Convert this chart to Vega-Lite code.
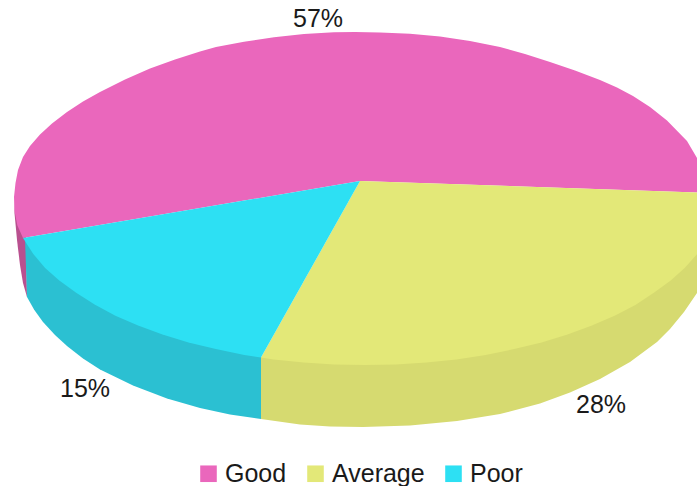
{"$schema":"https://vega.github.io/schema/vega-lite/v6.json","width":697,"height":486,"padding":0,"autosize":{"type":"fit","contains":"padding"},"background":"white","config":{"view":{"stroke":null}},
"datasets":{
"tops":[
{"slice":"Good","seq":0,"x":360,"y":181},{"slice":"Good","seq":1,"x":712,"y":193},{"slice":"Good","seq":2,"x":706,"y":178},{"slice":"Good","seq":3,"x":697,"y":158},{"slice":"Good","seq":4,"x":687,"y":141},{"slice":"Good","seq":5,"x":667,"y":120.5},{"slice":"Good","seq":6,"x":650,"y":107},{"slice":"Good","seq":7,"x":633,"y":96},{"slice":"Good","seq":8,"x":617,"y":87.5},{"slice":"Good","seq":9,"x":600,"y":80},{"slice":"Good","seq":10,"x":575,"y":70.5},{"slice":"Good","seq":11,"x":550,"y":62},{"slice":"Good","seq":12,"x":525,"y":54},{"slice":"Good","seq":13,"x":500,"y":47},{"slice":"Good","seq":14,"x":470,"y":41},{"slice":"Good","seq":15,"x":440,"y":36.5},{"slice":"Good","seq":16,"x":410,"y":33.8},{"slice":"Good","seq":17,"x":380,"y":32.4},{"slice":"Good","seq":18,"x":355,"y":32},{"slice":"Good","seq":19,"x":334,"y":32.3},{"slice":"Good","seq":20,"x":304,"y":34},{"slice":"Good","seq":21,"x":274,"y":37.2},{"slice":"Good","seq":22,"x":244,"y":41.8},{"slice":"Good","seq":23,"x":216,"y":47},{"slice":"Good","seq":24,"x":200,"y":51.5},{"slice":"Good","seq":25,"x":175,"y":59.5},{"slice":"Good","seq":26,"x":150,"y":68.5},{"slice":"Good","seq":27,"x":125,"y":79.5},{"slice":"Good","seq":28,"x":100,"y":92},{"slice":"Good","seq":29,"x":83,"y":101.5},{"slice":"Good","seq":30,"x":67,"y":112},{"slice":"Good","seq":31,"x":52,"y":123.5},{"slice":"Good","seq":32,"x":40,"y":134.5},{"slice":"Good","seq":33,"x":30,"y":146},{"slice":"Good","seq":34,"x":23,"y":157},{"slice":"Good","seq":35,"x":18,"y":170},{"slice":"Good","seq":36,"x":15.5,"y":183},{"slice":"Good","seq":37,"x":14,"y":197},{"slice":"Good","seq":38,"x":14.5,"y":211},{"slice":"Good","seq":39,"x":17.4,"y":225.6},{"slice":"Good","seq":40,"x":23,"y":238},
{"slice":"Average","seq":0,"x":360,"y":181},{"slice":"Average","seq":1,"x":261,"y":357.5},{"slice":"Average","seq":2,"x":273.6,"y":359.4},{"slice":"Average","seq":3,"x":303.7,"y":362.5},{"slice":"Average","seq":4,"x":334.2,"y":364.4},{"slice":"Average","seq":5,"x":365,"y":365},{"slice":"Average","seq":6,"x":395.8,"y":364.4},{"slice":"Average","seq":7,"x":426.3,"y":362.5},{"slice":"Average","seq":8,"x":456.4,"y":359.4},{"slice":"Average","seq":9,"x":485.7,"y":355},{"slice":"Average","seq":10,"x":514.2,"y":349},{"slice":"Average","seq":11,"x":541.5,"y":342.4},{"slice":"Average","seq":12,"x":567.5,"y":334.5},{"slice":"Average","seq":13,"x":591.9,"y":325.4},{"slice":"Average","seq":14,"x":614.6,"y":315.7},{"slice":"Average","seq":15,"x":635.4,"y":305},{"slice":"Average","seq":16,"x":654.2,"y":292.6},{"slice":"Average","seq":17,"x":670.7,"y":280.5},{"slice":"Average","seq":18,"x":684.9,"y":267.7},{"slice":"Average","seq":19,"x":696.7,"y":254.4},{"slice":"Average","seq":20,"x":706,"y":240.7},{"slice":"Average","seq":21,"x":711,"y":226},{"slice":"Average","seq":22,"x":713,"y":212},{"slice":"Average","seq":23,"x":712,"y":193},
{"slice":"Poor","seq":0,"x":360,"y":181},{"slice":"Poor","seq":1,"x":23,"y":238},{"slice":"Poor","seq":2,"x":33.3,"y":254},{"slice":"Poor","seq":3,"x":45.1,"y":268},{"slice":"Poor","seq":4,"x":59.3,"y":280.5},{"slice":"Poor","seq":5,"x":75.8,"y":292.6},{"slice":"Poor","seq":6,"x":94.6,"y":304.5},{"slice":"Poor","seq":7,"x":115.4,"y":315.7},{"slice":"Poor","seq":8,"x":138.1,"y":325.4},{"slice":"Poor","seq":9,"x":162.5,"y":334.5},{"slice":"Poor","seq":10,"x":188.5,"y":342.4},{"slice":"Poor","seq":11,"x":215.8,"y":349},{"slice":"Poor","seq":12,"x":244.3,"y":355},{"slice":"Poor","seq":13,"x":261,"y":357.5}],
"sides":[
{"slice":"Good","seq":0,"x":15,"y":197},{"slice":"Good","seq":1,"x":26,"y":238},{"slice":"Good","seq":2,"x":27,"y":297},{"slice":"Good","seq":3,"x":23,"y":283},{"slice":"Good","seq":4,"x":20,"y":265},{"slice":"Good","seq":5,"x":17,"y":240},{"slice":"Good","seq":6,"x":14.5,"y":213},
{"slice":"Poor","seq":0,"x":25,"y":238},{"slice":"Poor","seq":1,"x":261,"y":357},{"slice":"Poor","seq":2,"x":261,"y":419},{"slice":"Poor","seq":3,"x":230,"y":414.5},{"slice":"Poor","seq":4,"x":200,"y":408},{"slice":"Poor","seq":5,"x":167,"y":398.5},{"slice":"Poor","seq":6,"x":133,"y":385.5},{"slice":"Poor","seq":7,"x":100,"y":369.5},{"slice":"Poor","seq":8,"x":83,"y":358.5},{"slice":"Poor","seq":9,"x":67,"y":346},{"slice":"Poor","seq":10,"x":55,"y":335},{"slice":"Poor","seq":11,"x":43,"y":322},{"slice":"Poor","seq":12,"x":34,"y":309.5},{"slice":"Poor","seq":13,"x":27,"y":297},
{"slice":"Average","seq":0,"x":261,"y":357},{"slice":"Average","seq":1,"x":365,"y":360},{"slice":"Average","seq":2,"x":500,"y":345},{"slice":"Average","seq":3,"x":620,"y":305},{"slice":"Average","seq":4,"x":700,"y":245},{"slice":"Average","seq":5,"x":711,"y":197},{"slice":"Average","seq":6,"x":711,"y":270},{"slice":"Average","seq":7,"x":697,"y":293},{"slice":"Average","seq":8,"x":684,"y":312},{"slice":"Average","seq":9,"x":670,"y":329},{"slice":"Average","seq":10,"x":657,"y":342},{"slice":"Average","seq":11,"x":630,"y":362},{"slice":"Average","seq":12,"x":600,"y":379},{"slice":"Average","seq":13,"x":570,"y":392.5},{"slice":"Average","seq":14,"x":540,"y":403.5},{"slice":"Average","seq":15,"x":500,"y":414},{"slice":"Average","seq":16,"x":457,"y":421},{"slice":"Average","seq":17,"x":410,"y":425.5},{"slice":"Average","seq":18,"x":363,"y":427},{"slice":"Average","seq":19,"x":330,"y":426.5},{"slice":"Average","seq":20,"x":300,"y":424.5},{"slice":"Average","seq":21,"x":261,"y":419}],
"labels":[{"label":"57%","x":318,"y":19},{"label":"28%","x":601,"y":405},{"label":"15%","x":85,"y":389}]
},
"layer":[
{"data":{"name":"sides"},"mark":{"type":"line","stroke":"transparent","strokeWidth":0,"clip":true},
"encoding":{"x":{"field":"x","type":"quantitative","scale":{"domain":[0,697],"nice":false,"zero":false},"axis":null},"y":{"field":"y","type":"quantitative","scale":{"domain":[486,0],"nice":false,"zero":false},"axis":null},"order":{"field":"seq","type":"quantitative"},
"fill":{"field":"slice","type":"nominal","scale":{"domain":["Good","Average","Poor"],"range":["#B9508F","#D6DA70","#2BC0D2"]},"legend":null}}},
{"data":{"name":"tops"},"mark":{"type":"line","stroke":"transparent","strokeWidth":0,"clip":true},
"encoding":{"x":{"field":"x","type":"quantitative","scale":{"domain":[0,697],"nice":false,"zero":false},"axis":null},"y":{"field":"y","type":"quantitative","scale":{"domain":[486,0],"nice":false,"zero":false},"axis":null},"order":{"field":"seq","type":"quantitative"},
"fill":{"field":"slice","type":"nominal","sort":null,"scale":{"domain":["Good","Average","Poor"],"range":["#EA67BC","#E3E878","#2DE0F3"]},
"legend":{"title":null,"orient":"none","legendX":196,"legendY":461,"direction":"horizontal","symbolType":"square","symbolSize":275,"symbolStrokeWidth":0,"labelFont":"Liberation Sans","labelFontSize":25,"labelColor":"#1a1a1a","columnPadding":16,"padding":0,"symbolOffset":0,"labelOffset":4}}}},
{"data":{"name":"labels"},"mark":{"type":"text","font":"Liberation Sans","fontSize":25,"color":"#1a1a1a"},
"encoding":{"x":{"field":"x","type":"quantitative","scale":{"domain":[0,697],"nice":false,"zero":false},"axis":null},"y":{"field":"y","type":"quantitative","scale":{"domain":[486,0],"nice":false,"zero":false},"axis":null},"text":{"field":"label","type":"nominal"}}}
],
"resolve":{"scale":{"fill":"independent"}}}
